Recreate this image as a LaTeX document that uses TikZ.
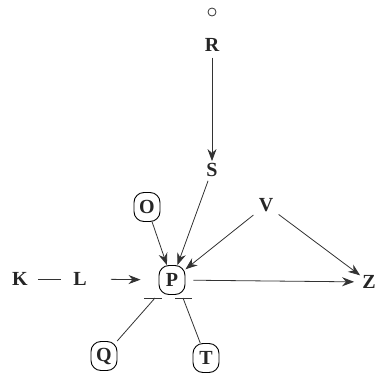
\documentclass[tikz,border=0pt]{standalone}
\usepackage{fontspec}
\setmainfont{Liberation Serif}
\usetikzlibrary{arrows.meta}

\begin{document}
\begin{tikzpicture}[x=1pt,y=-1pt,
		var/.style={font=\fontsize{20}{22}\selectfont\bfseries, inner sep=2pt, text=black!85},
		boxed/.style={var, draw, rounded corners=10pt, minimum width=26pt, minimum height=29pt, line width=0.9pt},
		edge/.style={line width=0.8pt, black!80},
		arr/.style={edge, -{Stealth[length=12pt,width=9pt]}}]
			\useasboundingbox (0,0) rectangle (377,383);
			% variables
			\node[draw, circle, inner sep=0pt, minimum size=8pt, line width=0.8pt, black!80] (o) at (212,12) {};
			\node[var] (R) at (212,45) {R};
			\node[var] (S) at (212,170) {S};
			\node[boxed] (O) at (147,207) {O};
			\node[var] (V) at (266,205) {V};
			\node[var] (K) at (20,279) {K};
			\node[var] (L) at (80,279) {L};
			\node[boxed] (P) at (172,280) {P};
			\node[var] (Z) at (369,282) {Z};
			\node[boxed] (Q) at (104,356) {Q};
			\node[boxed] (T) at (206,358) {T};
			% bar ends below P
			\coordinate (qbar) at (153,298);
			\coordinate (tbar) at (184,298);
			% arrows
			\draw[arr, shorten <=4pt] (R) -- (S);
			\draw[arr] (O) -- (P);
			\draw[arr, shorten <=2pt] (S) -- (P);
			\draw[arr, shorten <=4pt] (V) -- (P);
			\draw[arr, shorten <=4pt] (V) -- (Z);
			\draw[arr, shorten <=22pt, shorten >=18pt] (L) -- (P);
			\draw[arr, shorten <=8pt, shorten >=6pt] (P) -- (Z);
			\draw[edge, shorten <=8pt, shorten >=10pt] (K) -- (L);
			% lines with bars
			\draw[edge] (Q) -- ([xshift=2pt]qbar);
			\draw[edge] ([xshift=-9pt]qbar) -- ([xshift=9pt]qbar);
			\draw[edge] (T) -- ([xshift=-1pt]tbar);
			\draw[edge] ([xshift=-9pt]tbar) -- ([xshift=8pt]tbar);
\end{tikzpicture}
\end{document}
